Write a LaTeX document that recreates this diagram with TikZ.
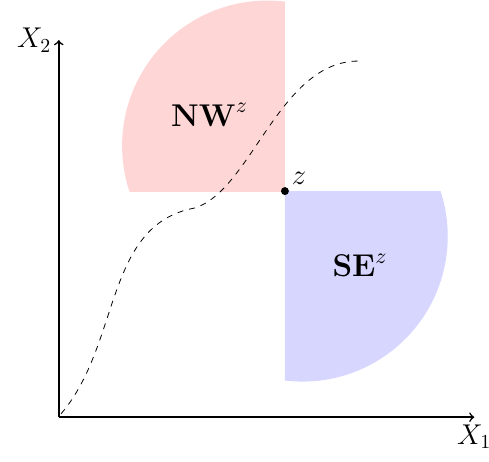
\documentclass[tikz,border=0pt]{standalone}
\usepackage{tikz}

\begin{document}
\begin{tikzpicture}[font=\Large]
\useasboundingbox (-1.04,-0.78) rectangle (7.61,7.38);
\coordinate (z) at (4,4);

% Regions
\begin{scope}
  \clip (z) rectangle (-1,8);
  \fill[red!16] (3.69,4.8) circle (2.57);
\end{scope}
\begin{scope}
  \clip (z) rectangle (8,-1);
  \fill[blue!16] (4.31,3.2) circle (2.57);
\end{scope}
\node[scale=1.1, transform shape] (nw) at (2.67,5.35) {$\mathbf{NW}^z$};
\node[scale=1.1, transform shape] (se) at (5.33,2.68) {$\mathbf{SE}^z$};

% Axes
\draw[->, thick] (0,0) -- (7.35,0) node[below] {$X_1$};
\draw[->, thick] (0,0) -- (0,6.67) node[left] {$X_2$};

% Curve
\draw[dashed] (0.04,0.06) .. controls (1.1,1.3) and (0.8,3.4) .. (2.4,3.7)
  .. controls (3.4,4.0) and (3.9,6.3) .. (5.3,6.3);

% Point
\fill (z) circle (2pt) node[above right] {$z$};

\end{tikzpicture}
\end{document}
